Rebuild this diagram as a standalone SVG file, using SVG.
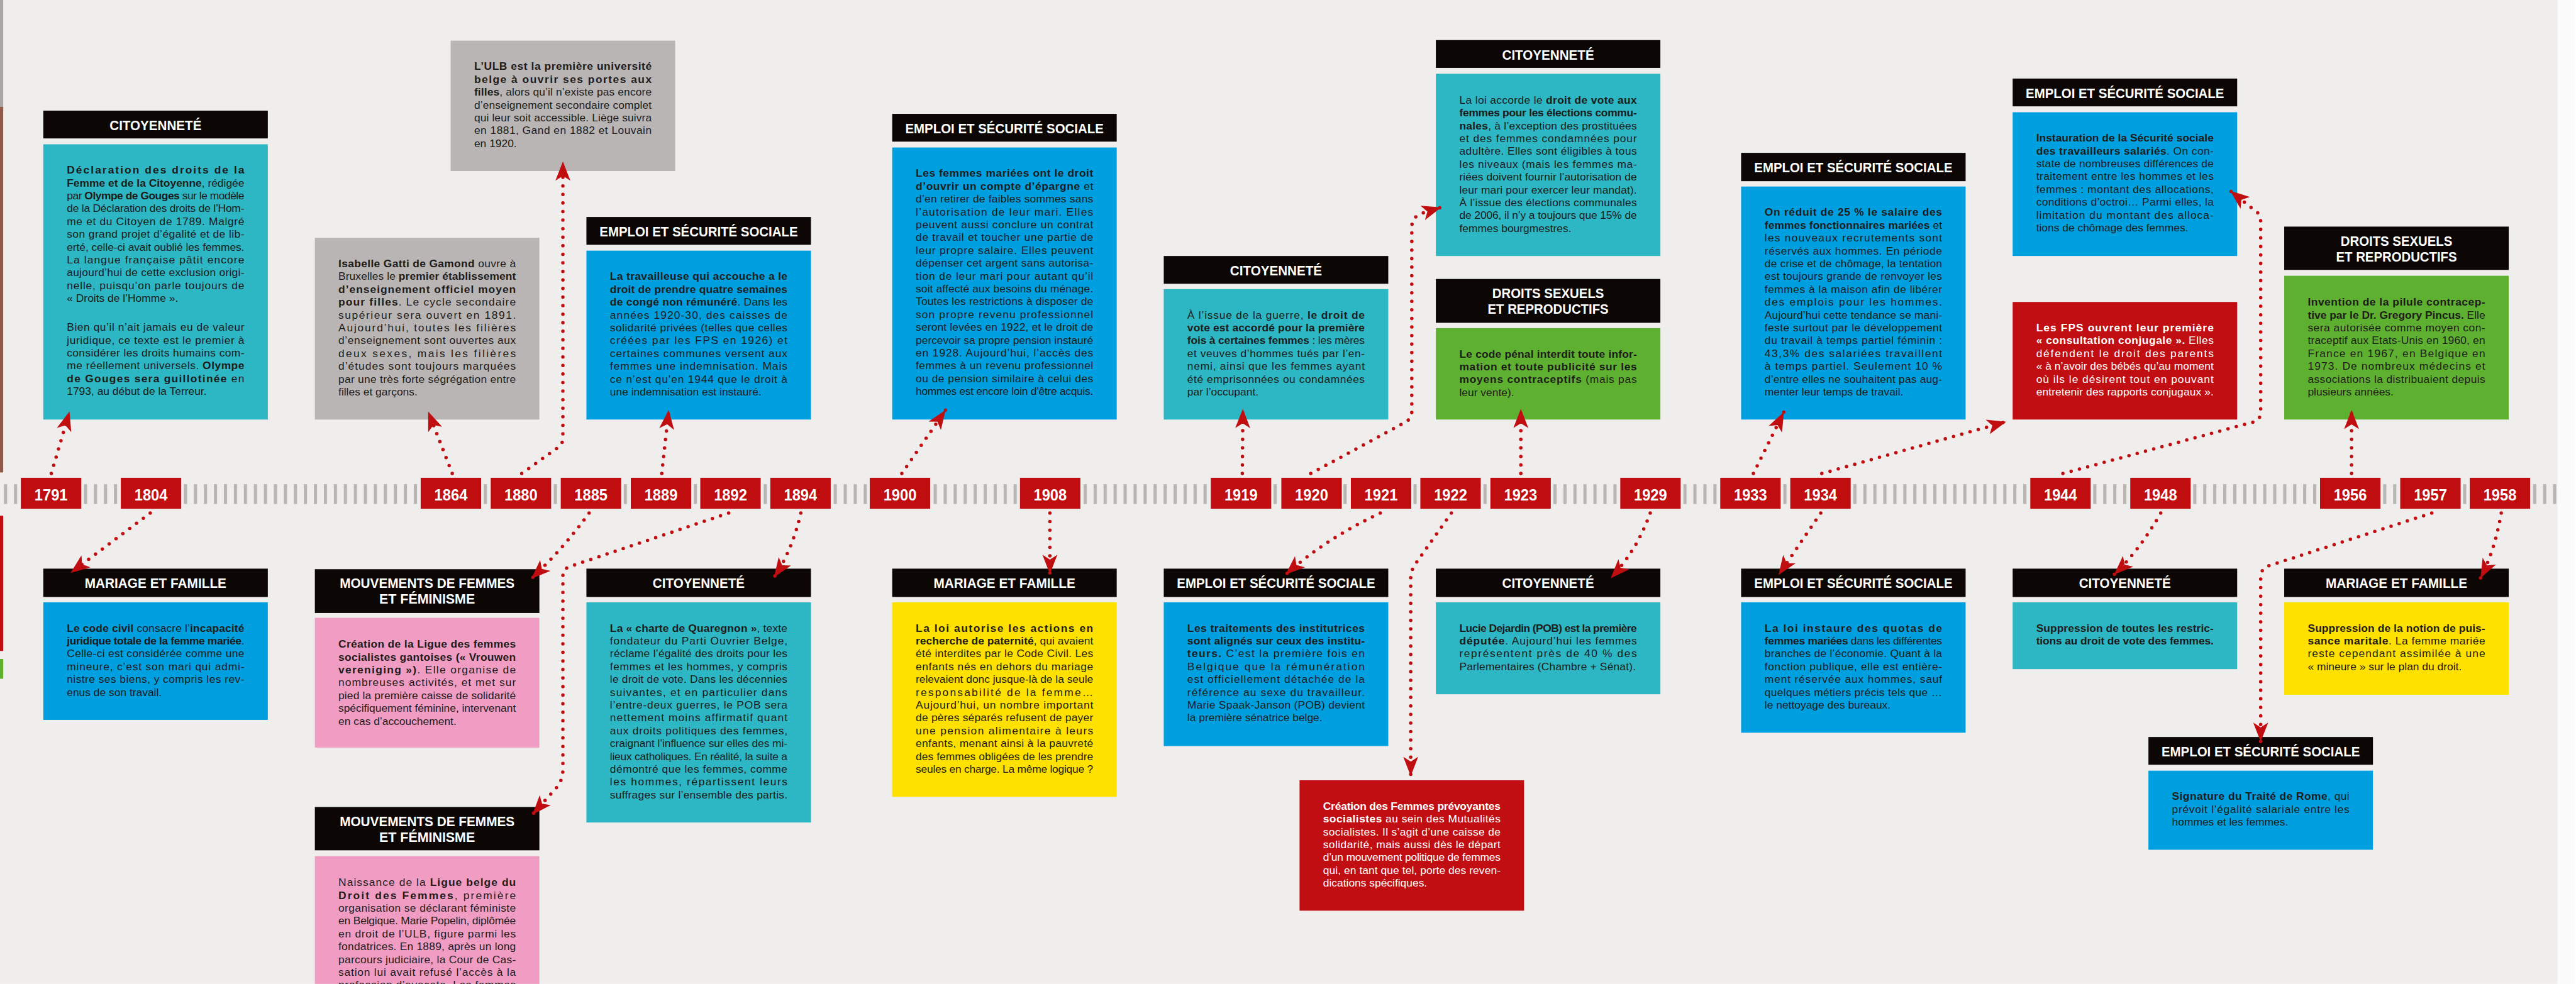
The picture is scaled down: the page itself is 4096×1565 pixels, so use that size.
<svg xmlns="http://www.w3.org/2000/svg" width="4096" height="1565" viewBox="0 0 4096 1565">
<defs>
<style>
.hd{fill:#0c0705}
.ht{font-family:'Liberation Sans',Arial,sans-serif;font-weight:700;font-size:27px;fill:#ffffff;text-anchor:middle}
.tx{font-family:'Liberation Sans',Arial,sans-serif;font-size:20.5px;fill:#1e1c1a}
.tw{fill:#ffffff}
.b{font-weight:700}
.cy{fill:#2db6c4}
.bl{fill:#009fe0}
.gr{fill:#b9b5b4}
.ye{fill:#ffe100}
.gn{fill:#5eb130}
.pk{fill:#f19cc2}
.rd{fill:#c10e12}
.yb{fill:#c00d10}
.yt{font-family:'Liberation Sans',Arial,sans-serif;font-weight:700;font-size:31px;fill:#ffffff;text-anchor:middle}
.ar{fill:none;stroke:#c00d10;stroke-width:6.5;stroke-linecap:round;stroke-dasharray:0 16;marker-end:url(#ah)}
</style>
<marker id="ah" markerUnits="userSpaceOnUse" markerWidth="40" markerHeight="30" viewBox="0 0 40 30" refX="36" refY="15" orient="auto">
<path d="M36,15 L0,1 L9,15 L0,29 Z" fill="#c00d10"/>
</marker>
<pattern id="tk" patternUnits="userSpaceOnUse" x="7.4" y="906" width="18.7" height="37">
<rect x="0" y="0" width="6" height="37" fill="#b9b5b3"/>
</pattern>
</defs>
<g transform="scale(0.85)">
<rect x="0" y="0" width="4817" height="1841" fill="#fbfbfb"/>
<rect x="0" y="0" width="4784" height="1841" fill="#f0eeed"/>
<rect x="0" y="0" width="6" height="200" fill="#a9a6a5"/>
<rect x="0" y="200" width="6" height="684" fill="#8e5b4a"/>
<rect x="0" y="965" width="6" height="253" fill="#c00d10"/>
<rect x="0" y="1233" width="6" height="37" fill="#5eb130"/>

<g id="timeline">
<rect x="0" y="906" width="4784" height="37" fill="url(#tk)"/>
</g>

<g id="y1791"><rect class="yb" x="39" y="894" width="113" height="58"/><text class="yt" x="95.5" y="936" textLength="62" lengthAdjust="spacingAndGlyphs">1791</text></g>
<g id="y1804"><rect class="yb" x="226" y="894" width="113" height="58"/><text class="yt" x="282.5" y="936" textLength="62" lengthAdjust="spacingAndGlyphs">1804</text></g>
<g id="y1864"><rect class="yb" x="787" y="894" width="113" height="58"/><text class="yt" x="843.5" y="936" textLength="62" lengthAdjust="spacingAndGlyphs">1864</text></g>
<g id="y1880"><rect class="yb" x="918" y="894" width="113" height="58"/><text class="yt" x="974.5" y="936" textLength="62" lengthAdjust="spacingAndGlyphs">1880</text></g>
<g id="y1885"><rect class="yb" x="1049" y="894" width="113" height="58"/><text class="yt" x="1105.5" y="936" textLength="62" lengthAdjust="spacingAndGlyphs">1885</text></g>
<g id="y1889"><rect class="yb" x="1180" y="894" width="113" height="58"/><text class="yt" x="1236.5" y="936" textLength="62" lengthAdjust="spacingAndGlyphs">1889</text></g>
<g id="y1892"><rect class="yb" x="1310" y="894" width="113" height="58"/><text class="yt" x="1366.5" y="936" textLength="62" lengthAdjust="spacingAndGlyphs">1892</text></g>
<g id="y1894"><rect class="yb" x="1441" y="894" width="113" height="58"/><text class="yt" x="1497.5" y="936" textLength="62" lengthAdjust="spacingAndGlyphs">1894</text></g>
<g id="y1900"><rect class="yb" x="1627" y="894" width="113" height="58"/><text class="yt" x="1683.5" y="936" textLength="62" lengthAdjust="spacingAndGlyphs">1900</text></g>
<g id="y1908"><rect class="yb" x="1908" y="894" width="113" height="58"/><text class="yt" x="1964.5" y="936" textLength="62" lengthAdjust="spacingAndGlyphs">1908</text></g>
<g id="y1919"><rect class="yb" x="2265" y="894" width="113" height="58"/><text class="yt" x="2321.5" y="936" textLength="62" lengthAdjust="spacingAndGlyphs">1919</text></g>
<g id="y1920"><rect class="yb" x="2397" y="894" width="113" height="58"/><text class="yt" x="2453.5" y="936" textLength="62" lengthAdjust="spacingAndGlyphs">1920</text></g>
<g id="y1921"><rect class="yb" x="2527" y="894" width="113" height="58"/><text class="yt" x="2583.5" y="936" textLength="62" lengthAdjust="spacingAndGlyphs">1921</text></g>
<g id="y1922"><rect class="yb" x="2657" y="894" width="113" height="58"/><text class="yt" x="2713.5" y="936" textLength="62" lengthAdjust="spacingAndGlyphs">1922</text></g>
<g id="y1923"><rect class="yb" x="2788" y="894" width="113" height="58"/><text class="yt" x="2844.5" y="936" textLength="62" lengthAdjust="spacingAndGlyphs">1923</text></g>
<g id="y1929"><rect class="yb" x="3031" y="894" width="113" height="58"/><text class="yt" x="3087.5" y="936" textLength="62" lengthAdjust="spacingAndGlyphs">1929</text></g>
<g id="y1933"><rect class="yb" x="3218" y="894" width="113" height="58"/><text class="yt" x="3274.5" y="936" textLength="62" lengthAdjust="spacingAndGlyphs">1933</text></g>
<g id="y1934"><rect class="yb" x="3349" y="894" width="113" height="58"/><text class="yt" x="3405.5" y="936" textLength="62" lengthAdjust="spacingAndGlyphs">1934</text></g>
<g id="y1944"><rect class="yb" x="3798" y="894" width="113" height="58"/><text class="yt" x="3854.5" y="936" textLength="62" lengthAdjust="spacingAndGlyphs">1944</text></g>
<g id="y1948"><rect class="yb" x="3985" y="894" width="113" height="58"/><text class="yt" x="4041.5" y="936" textLength="62" lengthAdjust="spacingAndGlyphs">1948</text></g>
<g id="y1956"><rect class="yb" x="4340" y="894" width="113" height="58"/><text class="yt" x="4396.5" y="936" textLength="62" lengthAdjust="spacingAndGlyphs">1956</text></g>
<g id="y1957"><rect class="yb" x="4490" y="894" width="113" height="58"/><text class="yt" x="4546.5" y="936" textLength="62" lengthAdjust="spacingAndGlyphs">1957</text></g>
<g id="y1958"><rect class="yb" x="4620" y="894" width="113" height="58"/><text class="yt" x="4676.5" y="936" textLength="62" lengthAdjust="spacingAndGlyphs">1958</text></g>

<!-- 1791 -->
<g id="card1791">
<rect class="hd" x="81" y="207" width="420" height="52"/>
<text class="ht" x="291" y="243.5" textLength="172" lengthAdjust="spacingAndGlyphs">CITOYENNETÉ</text>
<rect class="cy" x="81" y="270" width="420" height="515"/>
<g class="tx">
<text x="125" y="325" textLength="332" lengthAdjust="spacing"><tspan class="b">Déclaration des droits de la</tspan></text>
<text x="125" y="349" textLength="332" lengthAdjust="spacing"><tspan class="b">Femme et de la Citoyenne</tspan>, rédigée</text>
<text x="125" y="373" textLength="332" lengthAdjust="spacing">par <tspan class="b">Olympe de Gouges</tspan> sur le modèle</text>
<text x="125" y="397" textLength="332" lengthAdjust="spacing">de la Déclaration des droits de l’Hom-</text>
<text x="125" y="421" textLength="332" lengthAdjust="spacing">me et du Citoyen de 1789. Malgré</text>
<text x="125" y="445" textLength="332" lengthAdjust="spacing">son grand projet d’égalité et de lib-</text>
<text x="125" y="469" textLength="332" lengthAdjust="spacing">erté, celle-ci avait oublié les femmes.</text>
<text x="125" y="493" textLength="332" lengthAdjust="spacing">La langue française pâtit encore</text>
<text x="125" y="517" textLength="332" lengthAdjust="spacing">aujourd’hui de cette exclusion origi-</text>
<text x="125" y="541" textLength="332" lengthAdjust="spacing">nelle, puisqu’on parle toujours de</text>
<text x="125" y="565">« Droits de l’Homme ».</text>
<text x="125" y="619" textLength="332" lengthAdjust="spacing">Bien qu’il n’ait jamais eu de valeur</text>
<text x="125" y="643" textLength="332" lengthAdjust="spacing">juridique, ce texte est le premier à</text>
<text x="125" y="667" textLength="332" lengthAdjust="spacing">considérer les droits humains com-</text>
<text x="125" y="691" textLength="332" lengthAdjust="spacing">me réellement universels. <tspan class="b">Olympe</tspan></text>
<text x="125" y="715" textLength="332" lengthAdjust="spacing"><tspan class="b">de Gouges sera guillotinée</tspan> en</text>
<text x="125" y="739">1793, au début de la Terreur.</text>
</g>
</g>

<!-- 1864 -->
<g id="card1864">
<rect class="gr" x="589" y="445" width="420" height="340"/>
<g class="tx">
<text x="633" y="500" textLength="332" lengthAdjust="spacing"><tspan class="b">Isabelle Gatti de Gamond</tspan> ouvre à</text>
<text x="633" y="524" textLength="332" lengthAdjust="spacing">Bruxelles le <tspan class="b">premier établissement</tspan></text>
<text x="633" y="548" textLength="332" lengthAdjust="spacing"><tspan class="b">d’enseignement officiel moyen</tspan></text>
<text x="633" y="572" textLength="332" lengthAdjust="spacing"><tspan class="b">pour filles</tspan>. Le cycle secondaire</text>
<text x="633" y="596" textLength="332" lengthAdjust="spacing">supérieur sera ouvert en 1891.</text>
<text x="633" y="620" textLength="332" lengthAdjust="spacing">Aujourd’hui, toutes les filières</text>
<text x="633" y="644" textLength="332" lengthAdjust="spacing">d’enseignement sont ouvertes aux</text>
<text x="633" y="668" textLength="332" lengthAdjust="spacing">deux sexes, mais les filières</text>
<text x="633" y="692" textLength="332" lengthAdjust="spacing">d’études sont toujours marquées</text>
<text x="633" y="716" textLength="332" lengthAdjust="spacing">par une très forte ségrégation entre</text>
<text x="633" y="740">filles et garçons.</text>
</g>
</g>

<!-- 1880 -->
<g id="card1880">
<rect class="gr" x="843" y="76" width="420" height="244"/>
<g class="tx">
<text x="887" y="131" textLength="332" lengthAdjust="spacing"><tspan class="b">L’ULB est la première université</tspan></text>
<text x="887" y="155" textLength="332" lengthAdjust="spacing"><tspan class="b">belge à ouvrir ses portes aux</tspan></text>
<text x="887" y="179" textLength="332" lengthAdjust="spacing"><tspan class="b">filles</tspan>, alors qu’il n’existe pas encore</text>
<text x="887" y="203" textLength="332" lengthAdjust="spacing">d’enseignement secondaire complet</text>
<text x="887" y="227" textLength="332" lengthAdjust="spacing">qui leur soit accessible. Liège suivra</text>
<text x="887" y="251" textLength="332" lengthAdjust="spacing">en 1881, Gand en 1882 et Louvain</text>
<text x="887" y="275">en 1920.</text>
</g>
</g>

<!-- 1889 -->
<g id="card1889">
<rect class="hd" x="1097" y="406" width="420" height="52"/>
<text class="ht" x="1307" y="442.5" textLength="371" lengthAdjust="spacingAndGlyphs">EMPLOI ET SÉCURITÉ SOCIALE</text>
<rect class="bl" x="1097" y="469" width="420" height="316"/>
<g class="tx">
<text x="1141" y="524" textLength="332" lengthAdjust="spacing"><tspan class="b">La travailleuse qui accouche a le</tspan></text>
<text x="1141" y="548" textLength="332" lengthAdjust="spacing"><tspan class="b">droit de prendre quatre semaines</tspan></text>
<text x="1141" y="572" textLength="332" lengthAdjust="spacing"><tspan class="b">de congé non rémunéré</tspan>. Dans les</text>
<text x="1141" y="596" textLength="332" lengthAdjust="spacing">années 1920-30, des caisses de</text>
<text x="1141" y="620" textLength="332" lengthAdjust="spacing">solidarité privées (telles que celles</text>
<text x="1141" y="644" textLength="332" lengthAdjust="spacing">créées par les FPS en 1926) et</text>
<text x="1141" y="668" textLength="332" lengthAdjust="spacing">certaines communes versent aux</text>
<text x="1141" y="692" textLength="332" lengthAdjust="spacing">femmes une indemnisation. Mais</text>
<text x="1141" y="716" textLength="332" lengthAdjust="spacing">ce n’est qu’en 1944 que le droit à</text>
<text x="1141" y="740">une indemnisation est instauré.</text>
</g>
</g>

<!-- 1900 -->
<g id="card1900">
<rect class="hd" x="1669" y="213" width="420" height="52"/>
<text class="ht" x="1879" y="249.5" textLength="371" lengthAdjust="spacingAndGlyphs">EMPLOI ET SÉCURITÉ SOCIALE</text>
<rect class="bl" x="1669" y="276" width="420" height="509"/>
<g class="tx">
<text x="1713" y="331" textLength="332" lengthAdjust="spacing"><tspan class="b">Les femmes mariées ont le droit</tspan></text>
<text x="1713" y="355" textLength="332" lengthAdjust="spacing"><tspan class="b">d’ouvrir un compte d’épargne</tspan> et</text>
<text x="1713" y="379" textLength="332" lengthAdjust="spacing">d’en retirer de faibles sommes sans</text>
<text x="1713" y="403" textLength="332" lengthAdjust="spacing">l’autorisation de leur mari. Elles</text>
<text x="1713" y="427" textLength="332" lengthAdjust="spacing">peuvent aussi conclure un contrat</text>
<text x="1713" y="451" textLength="332" lengthAdjust="spacing">de travail et toucher une partie de</text>
<text x="1713" y="475" textLength="332" lengthAdjust="spacing">leur propre salaire. Elles peuvent</text>
<text x="1713" y="499" textLength="332" lengthAdjust="spacing">dépenser cet argent sans autorisa-</text>
<text x="1713" y="523" textLength="332" lengthAdjust="spacing">tion de leur mari pour autant qu’il</text>
<text x="1713" y="547" textLength="332" lengthAdjust="spacing">soit affecté aux besoins du ménage.</text>
<text x="1713" y="571" textLength="332" lengthAdjust="spacing">Toutes les restrictions à disposer de</text>
<text x="1713" y="595" textLength="332" lengthAdjust="spacing">son propre revenu professionnel</text>
<text x="1713" y="619" textLength="332" lengthAdjust="spacing">seront levées en 1922, et le droit de</text>
<text x="1713" y="643" textLength="332" lengthAdjust="spacing">percevoir sa propre pension instauré</text>
<text x="1713" y="667" textLength="332" lengthAdjust="spacing">en 1928. Aujourd’hui, l’accès des</text>
<text x="1713" y="691" textLength="332" lengthAdjust="spacing">femmes à un revenu professionnel</text>
<text x="1713" y="715" textLength="332" lengthAdjust="spacing">ou de pension similaire à celui des</text>
<text x="1713" y="739" textLength="332" lengthAdjust="spacing">hommes est encore loin d’être acquis.</text>
</g>
</g>

<!-- 1919 -->
<g id="card1919">
<rect class="hd" x="2177" y="479" width="420" height="52"/>
<text class="ht" x="2387" y="515.5" textLength="172" lengthAdjust="spacingAndGlyphs">CITOYENNETÉ</text>
<rect class="cy" x="2177" y="541" width="420" height="244"/>
<g class="tx">
<text x="2221" y="596" textLength="332" lengthAdjust="spacing">À l’issue de la guerre, <tspan class="b">le droit de</tspan></text>
<text x="2221" y="620" textLength="332" lengthAdjust="spacing"><tspan class="b">vote est accordé pour la première</tspan></text>
<text x="2221" y="644" textLength="332" lengthAdjust="spacing"><tspan class="b">fois à certaines femmes</tspan> : les mères</text>
<text x="2221" y="668" textLength="332" lengthAdjust="spacing">et veuves d’hommes tués par l’en-</text>
<text x="2221" y="692" textLength="332" lengthAdjust="spacing">nemi, ainsi que les femmes ayant</text>
<text x="2221" y="716" textLength="332" lengthAdjust="spacing">été emprisonnées ou condamnées</text>
<text x="2221" y="740">par l’occupant.</text>
</g>
</g>

<!-- 1920 -->
<g id="card1920">
<rect class="hd" x="2686" y="75" width="420" height="52"/>
<text class="ht" x="2896" y="111.5" textLength="172" lengthAdjust="spacingAndGlyphs">CITOYENNETÉ</text>
<rect class="cy" x="2686" y="138" width="420" height="341"/>
<g class="tx">
<text x="2730" y="194" textLength="332" lengthAdjust="spacing">La loi accorde le <tspan class="b">droit de vote aux</tspan></text>
<text x="2730" y="218" textLength="332" lengthAdjust="spacing"><tspan class="b">femmes pour les élections commu-</tspan></text>
<text x="2730" y="242" textLength="332" lengthAdjust="spacing"><tspan class="b">nales</tspan>, à l’exception des prostituées</text>
<text x="2730" y="266" textLength="332" lengthAdjust="spacing">et des femmes condamnées pour</text>
<text x="2730" y="290" textLength="332" lengthAdjust="spacing">adultère. Elles sont éligibles à tous</text>
<text x="2730" y="314" textLength="332" lengthAdjust="spacing">les niveaux (mais les femmes ma-</text>
<text x="2730" y="338" textLength="332" lengthAdjust="spacing">riées doivent fournir l’autorisation de</text>
<text x="2730" y="362" textLength="332" lengthAdjust="spacing">leur mari pour exercer leur mandat).</text>
<text x="2730" y="386" textLength="332" lengthAdjust="spacing">À l’issue des élections communales</text>
<text x="2730" y="410" textLength="332" lengthAdjust="spacing">de 2006, il n’y a toujours que 15% de</text>
<text x="2730" y="434">femmes bourgmestres.</text>
</g>
</g>

<!-- 1923 -->
<g id="card1923">
<rect class="hd" x="2686" y="522" width="420" height="82"/>
<text class="ht" x="2896" y="557.5" textLength="209" lengthAdjust="spacingAndGlyphs">DROITS SEXUELS</text>
<text class="ht" x="2896" y="587" textLength="226" lengthAdjust="spacingAndGlyphs">ET REPRODUCTIFS</text>
<rect class="gn" x="2686" y="614" width="420" height="171"/>
<g class="tx">
<text x="2730" y="669" textLength="332" lengthAdjust="spacing"><tspan class="b">Le code pénal interdit toute infor-</tspan></text>
<text x="2730" y="693" textLength="332" lengthAdjust="spacing"><tspan class="b">mation et toute publicité sur les</tspan></text>
<text x="2730" y="717" textLength="332" lengthAdjust="spacing"><tspan class="b">moyens contraceptifs</tspan> (mais pas</text>
<text x="2730" y="741">leur vente).</text>
</g>
</g>

<!-- 1933 -->
<g id="card1933">
<rect class="hd" x="3257" y="286" width="420" height="53"/>
<text class="ht" x="3467" y="322.5" textLength="371" lengthAdjust="spacingAndGlyphs">EMPLOI ET SÉCURITÉ SOCIALE</text>
<rect class="bl" x="3257" y="349" width="420" height="436"/>
<g class="tx">
<text x="3301" y="404" textLength="332" lengthAdjust="spacing"><tspan class="b">On réduit de 25 % le salaire des</tspan></text>
<text x="3301" y="428" textLength="332" lengthAdjust="spacing"><tspan class="b">femmes fonctionnaires mariées</tspan> et</text>
<text x="3301" y="452" textLength="332" lengthAdjust="spacing">les nouveaux recrutements sont</text>
<text x="3301" y="476" textLength="332" lengthAdjust="spacing">réservés aux hommes. En période</text>
<text x="3301" y="500" textLength="332" lengthAdjust="spacing">de crise et de chômage, la tentation</text>
<text x="3301" y="524" textLength="332" lengthAdjust="spacing">est toujours grande de renvoyer les</text>
<text x="3301" y="548" textLength="332" lengthAdjust="spacing">femmes à la maison afin de libérer</text>
<text x="3301" y="572" textLength="332" lengthAdjust="spacing">des emplois pour les hommes.</text>
<text x="3301" y="596" textLength="332" lengthAdjust="spacing">Aujourd’hui cette tendance se mani-</text>
<text x="3301" y="620" textLength="332" lengthAdjust="spacing">feste surtout par le développement</text>
<text x="3301" y="644" textLength="332" lengthAdjust="spacing">du travail à temps partiel féminin :</text>
<text x="3301" y="668" textLength="332" lengthAdjust="spacing">43,3% des salariées travaillent</text>
<text x="3301" y="692" textLength="332" lengthAdjust="spacing">à temps partiel. Seulement 10 %</text>
<text x="3301" y="716" textLength="332" lengthAdjust="spacing">d’entre elles ne souhaitent pas aug-</text>
<text x="3301" y="740">menter leur temps de travail.</text>
</g>
</g>

<!-- 1944 -->
<g id="card1944">
<rect class="hd" x="3765" y="147" width="420" height="52"/>
<text class="ht" x="3975" y="183.5" textLength="371" lengthAdjust="spacingAndGlyphs">EMPLOI ET SÉCURITÉ SOCIALE</text>
<rect class="bl" x="3765" y="210" width="420" height="269"/>
<g class="tx">
<text x="3809" y="265" textLength="332" lengthAdjust="spacing"><tspan class="b">Instauration de la Sécurité sociale</tspan></text>
<text x="3809" y="289" textLength="332" lengthAdjust="spacing"><tspan class="b">des travailleurs salariés</tspan>. On con-</text>
<text x="3809" y="313" textLength="332" lengthAdjust="spacing">state de nombreuses différences de</text>
<text x="3809" y="337" textLength="332" lengthAdjust="spacing">traitement entre les hommes et les</text>
<text x="3809" y="361" textLength="332" lengthAdjust="spacing">femmes : montant des allocations,</text>
<text x="3809" y="385" textLength="332" lengthAdjust="spacing">conditions d’octroi… Parmi elles, la</text>
<text x="3809" y="409" textLength="332" lengthAdjust="spacing">limitation du montant des alloca-</text>
<text x="3809" y="433">tions de chômage des femmes.</text>
</g>
</g>

<!-- 1934 FPS -->
<g id="card1934fps">
<rect class="rd" x="3765" y="565" width="420" height="220"/>
<g class="tx tw">
<text x="3809" y="620" textLength="332" lengthAdjust="spacing"><tspan class="b">Les FPS ouvrent leur première</tspan></text>
<text x="3809" y="644" textLength="332" lengthAdjust="spacing"><tspan class="b">« consultation conjugale ».</tspan> Elles</text>
<text x="3809" y="668" textLength="332" lengthAdjust="spacing">défendent le droit des parents</text>
<text x="3809" y="692" textLength="332" lengthAdjust="spacing">« à n’avoir des bébés qu’au moment</text>
<text x="3809" y="716" textLength="332" lengthAdjust="spacing">où ils le désirent tout en pouvant</text>
<text x="3809" y="740" textLength="332" lengthAdjust="spacing">entretenir des rapports conjugaux ».</text>
</g>
</g>

<!-- 1956 -->
<g id="card1956">
<rect class="hd" x="4273" y="424" width="420" height="81"/>
<text class="ht" x="4483" y="459.5" textLength="209" lengthAdjust="spacingAndGlyphs">DROITS SEXUELS</text>
<text class="ht" x="4483" y="489" textLength="226" lengthAdjust="spacingAndGlyphs">ET REPRODUCTIFS</text>
<rect class="gn" x="4273" y="516" width="420" height="269"/>
<g class="tx">
<text x="4317" y="572" textLength="332" lengthAdjust="spacing"><tspan class="b">Invention de la pilule contracep-</tspan></text>
<text x="4317" y="596" textLength="332" lengthAdjust="spacing"><tspan class="b">tive par le Dr. Gregory Pincus.</tspan> Elle</text>
<text x="4317" y="620" textLength="332" lengthAdjust="spacing">sera autorisée comme moyen con-</text>
<text x="4317" y="644" textLength="332" lengthAdjust="spacing">traceptif aux Etats-Unis en 1960, en</text>
<text x="4317" y="668" textLength="332" lengthAdjust="spacing">France en 1967, en Belgique en</text>
<text x="4317" y="692" textLength="332" lengthAdjust="spacing">1973. De nombreux médecins et</text>
<text x="4317" y="716" textLength="332" lengthAdjust="spacing">associations la distribuaient depuis</text>
<text x="4317" y="740">plusieurs années.</text>
</g>
</g>

<!-- 1804 -->
<g id="card1804">
<rect class="hd" x="81" y="1064" width="420" height="53"/>
<text class="ht" x="291" y="1100.5" textLength="265" lengthAdjust="spacingAndGlyphs">MARIAGE ET FAMILLE</text>
<rect class="bl" x="81" y="1127" width="420" height="220"/>
<g class="tx">
<text x="125" y="1182" textLength="332" lengthAdjust="spacing"><tspan class="b">Le code civil</tspan> consacre l’<tspan class="b">incapacité</tspan></text>
<text x="125" y="1206" textLength="332" lengthAdjust="spacing"><tspan class="b">juridique totale de la femme mariée</tspan>.</text>
<text x="125" y="1230" textLength="332" lengthAdjust="spacing">Celle-ci est considérée comme une</text>
<text x="125" y="1254" textLength="332" lengthAdjust="spacing">mineure, c’est son mari qui admi-</text>
<text x="125" y="1278" textLength="332" lengthAdjust="spacing">nistre ses biens, y compris les rev-</text>
<text x="125" y="1302">enus de son travail.</text>
</g>
</g>

<!-- 1885 -->
<g id="card1885">
<rect class="hd" x="589" y="1065" width="420" height="82"/>
<text class="ht" x="799" y="1100.5" textLength="327" lengthAdjust="spacingAndGlyphs">MOUVEMENTS DE FEMMES</text>
<text class="ht" x="799" y="1130" textLength="179" lengthAdjust="spacingAndGlyphs">ET FÉMINISME</text>
<rect class="pk" x="589" y="1156" width="420" height="243"/>
<g class="tx">
<text x="633" y="1212" textLength="332" lengthAdjust="spacing"><tspan class="b">Création de la Ligue des femmes</tspan></text>
<text x="633" y="1236" textLength="332" lengthAdjust="spacing"><tspan class="b">socialistes gantoises (« Vrouwen</tspan></text>
<text x="633" y="1260" textLength="332" lengthAdjust="spacing"><tspan class="b">vereniging »)</tspan>. Elle organise de</text>
<text x="633" y="1284" textLength="332" lengthAdjust="spacing">nombreuses activités, et met sur</text>
<text x="633" y="1308" textLength="332" lengthAdjust="spacing">pied la première caisse de solidarité</text>
<text x="633" y="1332" textLength="332" lengthAdjust="spacing">spécifiquement féminine, intervenant</text>
<text x="633" y="1356">en cas d’accouchement.</text>
</g>
</g>

<!-- 1892 -->
<g id="card1892">
<rect class="hd" x="589" y="1510" width="420" height="81"/>
<text class="ht" x="799" y="1545.5" textLength="327" lengthAdjust="spacingAndGlyphs">MOUVEMENTS DE FEMMES</text>
<text class="ht" x="799" y="1575" textLength="179" lengthAdjust="spacingAndGlyphs">ET FÉMINISME</text>
<rect class="pk" x="589" y="1602" width="420" height="239"/>
<g class="tx">
<text x="633" y="1658" textLength="332" lengthAdjust="spacing">Naissance de la <tspan class="b">Ligue belge du</tspan></text>
<text x="633" y="1682" textLength="332" lengthAdjust="spacing"><tspan class="b">Droit des Femmes</tspan>, première</text>
<text x="633" y="1706" textLength="332" lengthAdjust="spacing">organisation se déclarant féministe</text>
<text x="633" y="1730" textLength="332" lengthAdjust="spacing">en Belgique. Marie Popelin, diplômée</text>
<text x="633" y="1754" textLength="332" lengthAdjust="spacing">en droit de l’ULB, figure parmi les</text>
<text x="633" y="1778" textLength="332" lengthAdjust="spacing">fondatrices. En 1889, après un long</text>
<text x="633" y="1802" textLength="332" lengthAdjust="spacing">parcours judiciaire, la Cour de Cas-</text>
<text x="633" y="1826" textLength="332" lengthAdjust="spacing">sation lui avait refusé l’accès à la</text>
<text x="633" y="1850" textLength="332" lengthAdjust="spacing">profession d’avocate. Les femmes</text>
</g>
</g>

<!-- 1894 -->
<g id="card1894">
<rect class="hd" x="1097" y="1064" width="420" height="53"/>
<text class="ht" x="1307" y="1100.5" textLength="172" lengthAdjust="spacingAndGlyphs">CITOYENNETÉ</text>
<rect class="cy" x="1097" y="1127" width="420" height="412"/>
<g class="tx">
<text x="1141" y="1182" textLength="332" lengthAdjust="spacing"><tspan class="b">La « charte de Quaregnon »</tspan>, texte</text>
<text x="1141" y="1206" textLength="332" lengthAdjust="spacing">fondateur du Parti Ouvrier Belge,</text>
<text x="1141" y="1230" textLength="332" lengthAdjust="spacing">réclame l’égalité des droits pour les</text>
<text x="1141" y="1254" textLength="332" lengthAdjust="spacing">femmes et les hommes, y compris</text>
<text x="1141" y="1278" textLength="332" lengthAdjust="spacing">le droit de vote. Dans les décennies</text>
<text x="1141" y="1302" textLength="332" lengthAdjust="spacing">suivantes, et en particulier dans</text>
<text x="1141" y="1326" textLength="332" lengthAdjust="spacing">l’entre-deux guerres, le POB sera</text>
<text x="1141" y="1350" textLength="332" lengthAdjust="spacing">nettement moins affirmatif quant</text>
<text x="1141" y="1374" textLength="332" lengthAdjust="spacing">aux droits politiques des femmes,</text>
<text x="1141" y="1398" textLength="332" lengthAdjust="spacing">craignant l’influence sur elles des mi-</text>
<text x="1141" y="1422" textLength="332" lengthAdjust="spacing">lieux catholiques. En réalité, la suite a</text>
<text x="1141" y="1446" textLength="332" lengthAdjust="spacing">démontré que les femmes, comme</text>
<text x="1141" y="1470" textLength="332" lengthAdjust="spacing">les hommes, répartissent leurs</text>
<text x="1141" y="1494" textLength="332" lengthAdjust="spacing">suffrages sur l’ensemble des partis.</text>
</g>
</g>

<!-- 1908 -->
<g id="card1908">
<rect class="hd" x="1669" y="1064" width="420" height="53"/>
<text class="ht" x="1879" y="1100.5" textLength="265" lengthAdjust="spacingAndGlyphs">MARIAGE ET FAMILLE</text>
<rect class="ye" x="1669" y="1127" width="420" height="364"/>
<g class="tx">
<text x="1713" y="1182" textLength="332" lengthAdjust="spacing"><tspan class="b">La loi autorise les actions en</tspan></text>
<text x="1713" y="1206" textLength="332" lengthAdjust="spacing"><tspan class="b">recherche de paternité</tspan>, qui avaient</text>
<text x="1713" y="1230" textLength="332" lengthAdjust="spacing">été interdites par le Code Civil. Les</text>
<text x="1713" y="1254" textLength="332" lengthAdjust="spacing">enfants nés en dehors du mariage</text>
<text x="1713" y="1278" textLength="332" lengthAdjust="spacing">relevaient donc jusque-là de la seule</text>
<text x="1713" y="1302" textLength="332" lengthAdjust="spacing">responsabilité de la femme…</text>
<text x="1713" y="1326" textLength="332" lengthAdjust="spacing">Aujourd’hui, un nombre important</text>
<text x="1713" y="1350" textLength="332" lengthAdjust="spacing">de pères séparés refusent de payer</text>
<text x="1713" y="1374" textLength="332" lengthAdjust="spacing">une pension alimentaire à leurs</text>
<text x="1713" y="1398" textLength="332" lengthAdjust="spacing">enfants, menant ainsi à la pauvreté</text>
<text x="1713" y="1422" textLength="332" lengthAdjust="spacing">des femmes obligées de les prendre</text>
<text x="1713" y="1446" textLength="332" lengthAdjust="spacing">seules en charge. La même logique ?</text>
</g>
</g>

<!-- 1921 -->
<g id="card1921">
<rect class="hd" x="2177" y="1064" width="420" height="53"/>
<text class="ht" x="2387" y="1100.5" textLength="371" lengthAdjust="spacingAndGlyphs">EMPLOI ET SÉCURITÉ SOCIALE</text>
<rect class="bl" x="2177" y="1127" width="420" height="269"/>
<g class="tx">
<text x="2221" y="1182" textLength="332" lengthAdjust="spacing"><tspan class="b">Les traitements des institutrices</tspan></text>
<text x="2221" y="1206" textLength="332" lengthAdjust="spacing"><tspan class="b">sont alignés sur ceux des institu-</tspan></text>
<text x="2221" y="1230" textLength="332" lengthAdjust="spacing"><tspan class="b">teurs.</tspan> C’est la première fois en</text>
<text x="2221" y="1254" textLength="332" lengthAdjust="spacing">Belgique que la rémunération</text>
<text x="2221" y="1278" textLength="332" lengthAdjust="spacing">est officiellement détachée de la</text>
<text x="2221" y="1302" textLength="332" lengthAdjust="spacing">référence au sexe du travailleur.</text>
<text x="2221" y="1326" textLength="332" lengthAdjust="spacing">Marie Spaak-Janson (POB) devient</text>
<text x="2221" y="1350">la première sénatrice belge.</text>
</g>
</g>

<!-- 1922 -->
<g id="card1922">
<rect class="rd" x="2431" y="1460" width="420" height="244"/>
<g class="tx tw">
<text x="2475" y="1515" textLength="332" lengthAdjust="spacing"><tspan class="b">Création des Femmes prévoyantes</tspan></text>
<text x="2475" y="1539" textLength="332" lengthAdjust="spacing"><tspan class="b">socialistes</tspan> au sein des Mutualités</text>
<text x="2475" y="1563" textLength="332" lengthAdjust="spacing">socialistes. Il s’agit d’une caisse de</text>
<text x="2475" y="1587" textLength="332" lengthAdjust="spacing">solidarité, mais aussi dès le départ</text>
<text x="2475" y="1611" textLength="332" lengthAdjust="spacing">d’un mouvement politique de femmes</text>
<text x="2475" y="1635" textLength="332" lengthAdjust="spacing">qui, en tant que tel, porte des reven-</text>
<text x="2475" y="1659">dications spécifiques.</text>
</g>
</g>

<!-- 1929 -->
<g id="card1929">
<rect class="hd" x="2686" y="1064" width="420" height="53"/>
<text class="ht" x="2896" y="1100.5" textLength="172" lengthAdjust="spacingAndGlyphs">CITOYENNETÉ</text>
<rect class="cy" x="2686" y="1127" width="420" height="172"/>
<g class="tx">
<text x="2730" y="1182" textLength="332" lengthAdjust="spacing"><tspan class="b">Lucie Dejardin (POB) est la première</tspan></text>
<text x="2730" y="1206" textLength="332" lengthAdjust="spacing"><tspan class="b">députée</tspan>. Aujourd’hui les femmes</text>
<text x="2730" y="1230" textLength="332" lengthAdjust="spacing">représentent près de 40 % des</text>
<text x="2730" y="1254" textLength="330" lengthAdjust="spacing">Parlementaires (Chambre + Sénat).</text>
</g>
</g>

<!-- 1934 -->
<g id="card1934">
<rect class="hd" x="3257" y="1064" width="420" height="53"/>
<text class="ht" x="3467" y="1100.5" textLength="371" lengthAdjust="spacingAndGlyphs">EMPLOI ET SÉCURITÉ SOCIALE</text>
<rect class="bl" x="3257" y="1127" width="420" height="244"/>
<g class="tx">
<text x="3301" y="1182" textLength="332" lengthAdjust="spacing"><tspan class="b">La loi instaure des quotas de</tspan></text>
<text x="3301" y="1206" textLength="332" lengthAdjust="spacing"><tspan class="b">femmes mariées</tspan> dans les différentes</text>
<text x="3301" y="1230" textLength="332" lengthAdjust="spacing">branches de l’économie. Quant à la</text>
<text x="3301" y="1254" textLength="332" lengthAdjust="spacing">fonction publique, elle est entière-</text>
<text x="3301" y="1278" textLength="332" lengthAdjust="spacing">ment réservée aux hommes, sauf</text>
<text x="3301" y="1302" textLength="332" lengthAdjust="spacing">quelques métiers précis tels que …</text>
<text x="3301" y="1326">le nettoyage des bureaux.</text>
</g>
</g>

<!-- 1948 -->
<g id="card1948">
<rect class="hd" x="3765" y="1064" width="420" height="53"/>
<text class="ht" x="3975" y="1100.5" textLength="172" lengthAdjust="spacingAndGlyphs">CITOYENNETÉ</text>
<rect class="cy" x="3765" y="1127" width="420" height="125"/>
<g class="tx">
<text x="3809" y="1182" textLength="332" lengthAdjust="spacing"><tspan class="b">Suppression de toutes les restric-</tspan></text>
<text x="3809" y="1206" textLength="332" lengthAdjust="spacing"><tspan class="b">tions au droit de vote des femmes.</tspan></text>
</g>
</g>

<!-- 1958 -->
<g id="card1958">
<rect class="hd" x="4273" y="1064" width="420" height="53"/>
<text class="ht" x="4483" y="1100.5" textLength="265" lengthAdjust="spacingAndGlyphs">MARIAGE ET FAMILLE</text>
<rect class="ye" x="4273" y="1127" width="420" height="173"/>
<g class="tx">
<text x="4317" y="1182" textLength="332" lengthAdjust="spacing"><tspan class="b">Suppression de la notion de puis-</tspan></text>
<text x="4317" y="1206" textLength="332" lengthAdjust="spacing"><tspan class="b">sance maritale</tspan>. La femme mariée</text>
<text x="4317" y="1230" textLength="332" lengthAdjust="spacing">reste cependant assimilée à une</text>
<text x="4317" y="1254">« mineure » sur le plan du droit.</text>
</g>
</g>

<!-- 1957 -->
<g id="card1957">
<rect class="hd" x="4019" y="1379" width="420" height="52"/>
<text class="ht" x="4229" y="1415.5" textLength="371" lengthAdjust="spacingAndGlyphs">EMPLOI ET SÉCURITÉ SOCIALE</text>
<rect class="bl" x="4019" y="1442" width="420" height="148"/>
<g class="tx">
<text x="4063" y="1497" textLength="332" lengthAdjust="spacing"><tspan class="b">Signature du Traité de Rome</tspan>, qui</text>
<text x="4063" y="1521" textLength="332" lengthAdjust="spacing">prévoit l’égalité salariale entre les</text>
<text x="4063" y="1545">hommes et les femmes.</text>
</g>
</g>

<g id="connectors">
<path class="ar" d="M96,886 L130,770"/>
<path class="ar" d="M846,886 L801,770"/>
<path class="ar" d="M976,886 L1043,838 Q1053,831 1053,820 L1053,302"/>
<path class="ar" d="M1238,886 L1251,767"/>
<path class="ar" d="M1687,886 L1769,767"/>
<path class="ar" d="M2324,886 L2325,765"/>
<path class="ar" d="M2452,886 L2629,790 Q2641,783 2641,770 L2641,425 Q2641,406 2660,399 L2696,388"/>
<path class="ar" d="M2845,886 L2845,765"/>
<path class="ar" d="M3280,886 L3337,771"/>
<path class="ar" d="M3408,886 L3753,789"/>
<path class="ar" d="M3859,886 L4214,790 Q4229,786 4229,771 L4229,416 Q4229,398 4213,390 L4172,357"/>
<path class="ar" d="M4399,886 L4399,767"/>
<path class="ar" d="M281,960 L132,1072"/>
<path class="ar" d="M1102,960 Q1055,1025 994,1083"/>
<path class="ar" d="M1363,960 L1066,1060 Q1053,1064 1053,1078 L1053,1440 Q1053,1460 1040,1475 L996,1524"/>
<path class="ar" d="M1498,960 Q1482,1030 1448,1080"/>
<path class="ar" d="M1964,960 L1964,1074"/>
<path class="ar" d="M2582,960 Q2480,1008 2405,1075"/>
<path class="ar" d="M2715,960 L2650,1052 Q2639,1066 2639,1082 L2639,1452"/>
<path class="ar" d="M3087,960 Q3062,1030 3013,1082"/>
<path class="ar" d="M3406,960 L3327,1076"/>
<path class="ar" d="M4042,960 Q4002,1030 3955,1075"/>
<path class="ar" d="M4549,960 L4246,1058 Q4229,1063 4229,1080 L4229,1388"/>
<path class="ar" d="M4679,960 Q4667,1030 4640,1082"/>
</g>
</g>
</svg>
